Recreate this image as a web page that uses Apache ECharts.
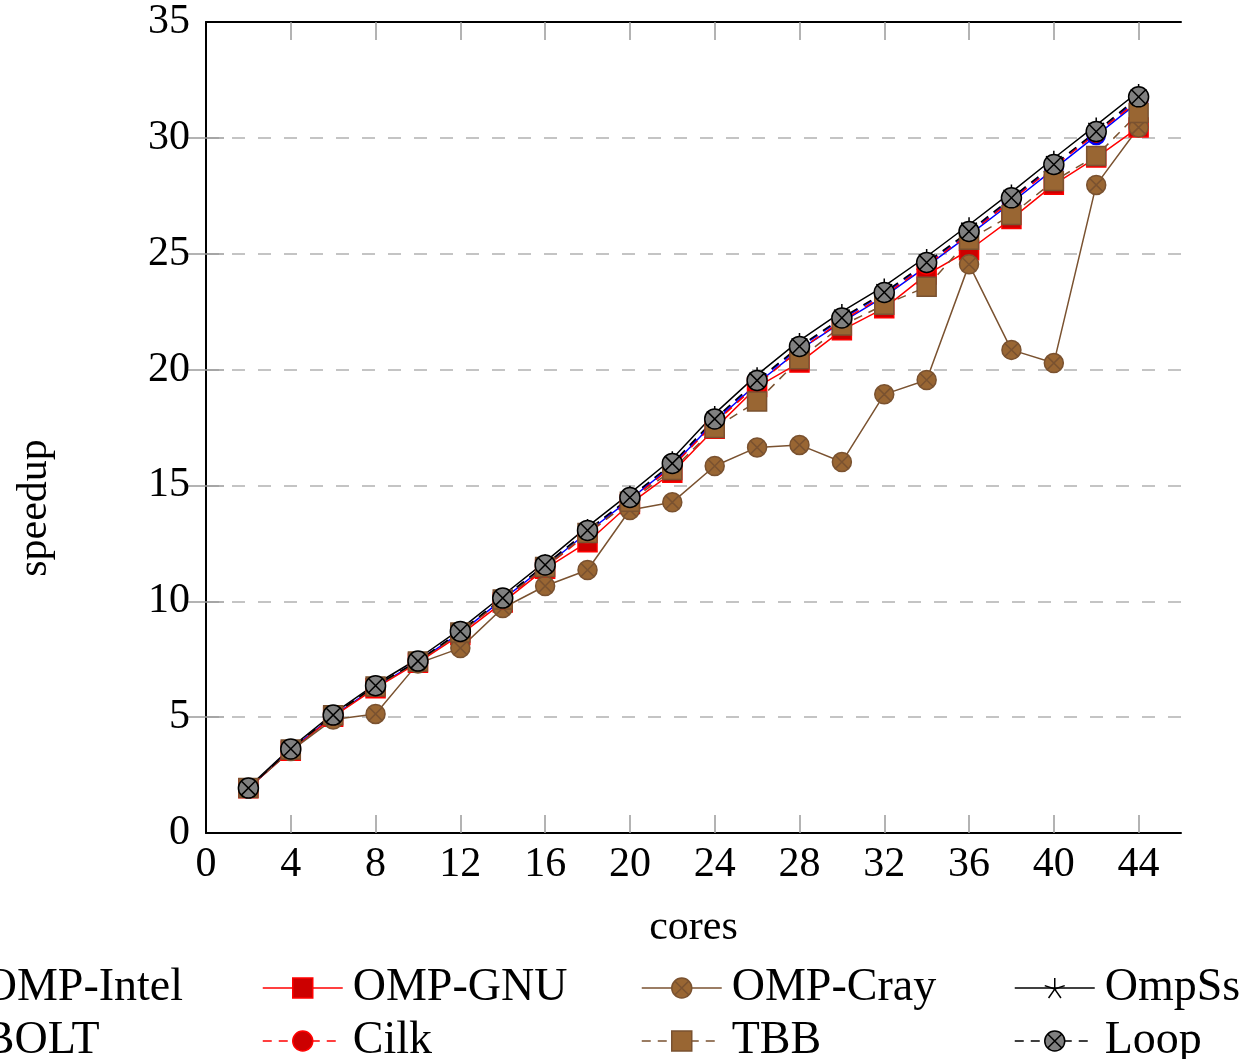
<!DOCTYPE html>
<html>
<head>
<meta charset="utf-8">
<script src="https://cdn.jsdelivr.net/npm/echarts@6/dist/echarts.min.js"></script>
<style>
  html, body { margin: 0; padding: 0; background: #fff; }
  #chart { width: 1247px; height: 1059px; }
</style>
</head>
<body>
<div id="chart"></div>
<script>
// Speedup per runtime as the core count grows
const cores = [2, 4, 6, 8, 10, 12, 14, 16, 18, 20, 22, 24, 26, 28, 30, 32, 34, 36, 38, 40, 42, 44];

const ompIntel = [1.92, 3.60, 5.05, 6.30, 7.40, 8.65, 10.08, 11.50, 12.98, 14.40, 15.85, 17.75, 19.40, 20.85, 22.05, 23.15, 24.45, 25.80, 27.20, 28.65, 30.10, 31.55];
const ompGnu   = [1.93, 3.55, 5.02, 6.25, 7.35, 8.55, 9.95, 11.40, 12.55, 14.20, 15.55, 17.45, 19.25, 20.30, 21.70, 22.65, 24.10, 25.15, 26.50, 27.98, 29.15, 30.45];
const ompCray  = [1.94, 3.54, 4.90, 5.14, 7.32, 7.98, 9.71, 10.66, 11.35, 13.94, 14.27, 15.84, 16.64, 16.75, 16.01, 18.93, 19.55, 24.54, 20.85, 20.28, 27.97, 30.45];
const ompss    = [1.97, 3.68, 5.15, 6.42, 7.52, 8.80, 10.25, 11.70, 13.22, 14.66, 16.15, 18.10, 19.77, 21.25, 22.50, 23.60, 24.88, 26.25, 27.66, 29.12, 30.55, 32.00];
const bolt     = [1.93, 3.62, 5.08, 6.33, 7.43, 8.68, 10.12, 11.55, 13.03, 14.45, 15.92, 17.82, 19.48, 20.95, 22.18, 23.28, 24.57, 25.90, 27.35, 28.80, 30.20, 31.70];
const cilk     = [1.93, 3.60, 5.06, 6.30, 7.40, 8.65, 10.05, 11.45, 12.90, 14.35, 15.80, 17.70, 19.35, 20.85, 22.10, 23.20, 24.50, 25.85, 27.30, 28.75, 30.20, 31.60];
const tbb      = [1.94, 3.60, 5.08, 6.32, 7.40, 8.65, 10.08, 11.48, 12.95, 14.30, 15.67, 17.48, 18.62, 20.45, 21.90, 22.80, 23.57, 25.60, 26.67, 28.14, 29.22, 31.07];
const loop     = [1.94, 3.63, 5.09, 6.36, 7.42, 8.70, 10.14, 11.57, 13.06, 14.48, 15.95, 17.87, 19.53, 21.00, 22.23, 23.33, 24.62, 25.96, 27.41, 28.85, 30.27, 31.77];

const xTicks = [0, 4, 8, 12, 16, 20, 24, 28, 32, 36, 40, 44];
const yTicks = [0, 5, 10, 15, 20, 25, 30, 35];
const X_MAX = 46, Y_MAX = 35;

const FONT = 'Liberation Serif';
const BLUE = '#0000ff', BLUE_FILL = '#0000cc';
const RED = '#ff0000', RED_FILL = '#cc0000';
const BROWN = '#7a5230', BROWN_FILL = '#996633';
const BLACK = '#000000', GRAY_FILL = '#808080';
const DASH = [9, 7];

// circle crossed by an X, and a five-armed star
const OTIMES = 'path://M1 0C1 0.5523 0.5523 1 0 1C-0.5523 1 -1 0.5523 -1 0C-1 -0.5523 -0.5523 -1 0 -1C0.5523 -1 1 -0.5523 1 0ZM-0.7071 -0.7071L0.7071 0.7071M-0.7071 0.7071L0.7071 -0.7071';
const STAR = 'path://M0 0L0 -1M0 0L0.951 -0.309M0 0L0.588 0.809M0 0L-0.588 0.809M0 0L-0.951 -0.309';

function mk(name, vals, color, dashed, symbol, size, fill, border) {
  return {
    name: name,
    type: 'line',
    data: cores.map((c, i) => [c, vals[i]]),
    symbol: symbol,
    symbolSize: size,
    symbolKeepAspect: true,
    showSymbol: true,
    lineStyle: { color: color, width: 1.5, type: dashed ? DASH : 'solid' },
    itemStyle: { color: fill, borderColor: border, borderWidth: 1.5, opacity: 1 },
    emphasis: { disabled: true }
  };
}

const series = [
  mk('OMP-Intel', ompIntel, BLUE, false, 'circle', 18, BLUE_FILL, BLUE),
  mk('OMP-GNU', ompGnu, RED, false, 'rect', 19, RED_FILL, RED),
  mk('OMP-Cray', ompCray, BROWN, false, OTIMES, 19, BROWN_FILL, BROWN),
  mk('OmpSs', ompss, BLACK, false, STAR, 16, BLACK, BLACK),
  mk('BOLT', bolt, BLUE, true, 'diamond', 15, BLUE_FILL, BLUE),
  mk('Cilk', cilk, RED, true, 'circle', 18, RED_FILL, RED),
  mk('TBB', tbb, BROWN, true, 'rect', 19, BROWN_FILL, BROWN),
  mk('Loop', loop, BLACK, true, OTIMES, 20, GRAY_FILL, BLACK)
];

// legend: 4 columns x 2 rows, each entry placed on its own
const legendCols = [-107, 262, 641, 1014];
const legendRows = [965, 1018];
const legends = series.map((s, i) => ({
  data: [s.name],
  left: legendCols[i % 4],
  top: legendRows[Math.floor(i / 4)],
  padding: 0,
  itemWidth: 80,
  itemHeight: 25,
  itemGap: 0,
  selectedMode: false,
  lineStyle: { width: 1.5 },
  itemStyle: { borderWidth: 1.5 },
  textStyle: { fontFamily: FONT, fontSize: 46, color: '#000', padding: [0, 0, 0, 5] }
}));

const axisLine = { show: true, onZero: false, lineStyle: { color: '#000', width: 2 } };
// inner tick marks, leaving out the ones that sit on the frame corners
const tick = (vals, max) => ({
  show: true, inside: true, length: 18,
  customValues: vals.filter(v => v > 0 && v < max),
  lineStyle: { color: '#9a9a9a', width: 1.5 }
});

const option = {
  animation: false,
  backgroundColor: '#fff',
  grid: { left: 206, top: 22, width: 975, height: 811, containLabel: false },
  legend: legends,
  xAxis: [
    {
      type: 'value', min: 0, max: X_MAX, interval: 4, position: 'bottom',
      name: 'cores', nameLocation: 'middle', nameGap: 74,
      nameTextStyle: { fontFamily: FONT, fontSize: 42, color: '#000' },
      axisLine: axisLine,
      axisTick: tick(xTicks, X_MAX),
      axisLabel: { customValues: xTicks, fontFamily: FONT, fontSize: 42, color: '#000', margin: 11 },
      splitLine: { show: false }
    },
    {
      type: 'value', min: 0, max: X_MAX, interval: 4, position: 'top',
      axisLine: axisLine,
      axisTick: tick(xTicks, X_MAX),
      axisLabel: { show: false },
      splitLine: { show: false }
    }
  ],
  yAxis: [
    {
      type: 'value', min: 0, max: Y_MAX, interval: 5, position: 'left',
      axisLine: axisLine,
      axisTick: tick(yTicks, Y_MAX),
      axisLabel: { customValues: yTicks, fontFamily: FONT, fontSize: 42, color: '#000', margin: 16 },
      splitLine: { show: true, lineStyle: { color: '#c4c4c4', width: 2, type: [13, 13] } }
    },
    {
      type: 'value', min: 0, max: Y_MAX, interval: 5, position: 'right',
      axisLine: { show: false },
      axisTick: tick(yTicks, Y_MAX),
      axisLabel: { show: false },
      splitLine: { show: false }
    }
  ],
  graphic: [
    {
      type: 'text', x: 35, y: 508, rotation: Math.PI / 2,
      style: { text: 'speedup', fontFamily: FONT, fontSize: 42, fill: '#000', align: 'center', verticalAlign: 'middle' }
    }
  ],
  series: series
};

const chart = echarts.init(document.getElementById('chart'), null, { renderer: 'canvas' });
chart.setOption(option);
</script>
</body>
</html>
